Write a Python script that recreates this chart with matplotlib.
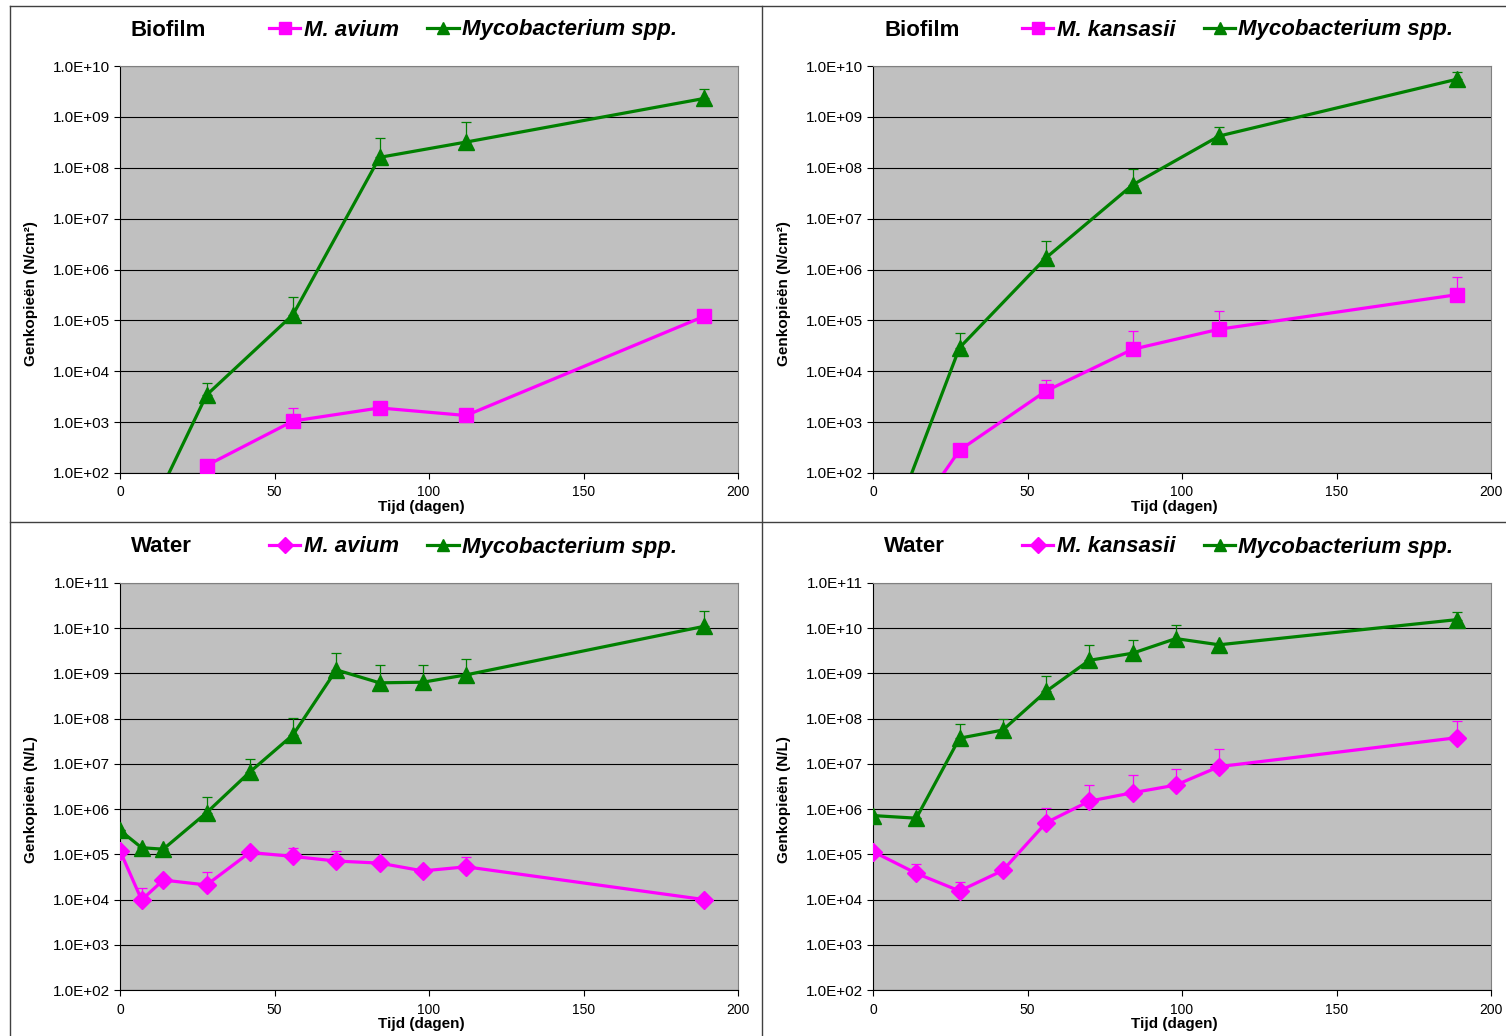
import matplotlib
matplotlib.use("Agg")
import matplotlib.pyplot as plt
from matplotlib.lines import Line2D
from matplotlib.ticker import FixedLocator, FuncFormatter, NullLocator
import numpy as np

plt.rcParams['font.family'] = ['Liberation Sans', 'DejaVu Sans']

MAG = '#FF00FF'
GRN = '#008000'

# ---- Biofilm, M. avium (top left)
bf_av_days = [28, 56, 84, 112, 189]
bf_av = [1.4e2, 1.05e3, 1.9e3, 1.35e3, 1.2e5]
bf_av_top = [1.6e2, 1.9e3, 2.2e3, 1.6e3, 1.4e5]
bf_av_myc_days = [0, 28, 56, 84, 112, 189]
bf_av_myc = [1.0, 3.4e3, 1.3e5, 1.6e8, 3.2e8, 2.3e9]
bf_av_myc_top = [1.0, 5.9e3, 2.9e5, 3.8e8, 7.9e8, 3.6e9]

# ---- Biofilm, M. kansasii (top right)
bf_ka_days = [0, 28, 56, 84, 112, 189]
bf_ka = [1.0, 2.8e2, 4.1e3, 2.7e4, 6.7e4, 3.2e5]
bf_ka_top = [1.0, 3.2e2, 6.8e3, 6.2e4, 1.5e5, 7.1e5]
bf_ka_myc_days = [0, 28, 56, 84, 112, 189]
bf_ka_myc = [1.0, 2.9e4, 1.7e6, 4.6e7, 4.2e8, 5.5e9]
bf_ka_myc_top = [1.0, 5.6e4, 3.6e6, 9.3e7, 6.3e8, 7.6e9]

# ---- Water, M. avium (bottom left)
w_av_days = [0, 7, 14, 28, 42, 56, 70, 84, 98, 112, 189]
w_av = [1.2e5, 9.8e3, 2.7e4, 2.1e4, 1.1e5, 9.0e4, 7.1e4, 6.4e4, 4.3e4, 5.3e4, 1.0e4]
w_av_top = [1.3e5, 1.8e4, 3.0e4, 4.1e4, 1.2e5, 1.4e5, 1.2e5, 7.0e4, 4.6e4, 8.7e4, 1.1e4]
w_av_myc = [3.4e5, 1.4e5, 1.3e5, 8.3e5, 6.6e6, 4.4e7, 1.2e9, 6.2e8, 6.4e8, 9.3e8, 1.1e10]
w_av_myc_top = [3.5e5, 1.45e5, 1.35e5, 1.9e6, 1.3e7, 1.05e8, 2.9e9, 1.55e9, 1.55e9, 2.1e9, 2.4e10]

# ---- Water, M. kansasii (bottom right)
w_ka_days = [0, 14, 28, 42, 56, 70, 84, 98, 112, 189]
w_ka = [1.15e5, 3.8e4, 1.55e4, 4.4e4, 5.0e5, 1.5e6, 2.3e6, 3.4e6, 8.7e6, 3.8e7]
w_ka_top = [1.2e5, 6.0e4, 2.4e4, 4.6e4, 1.07e6, 3.4e6, 5.6e6, 7.9e6, 2.1e7, 8.9e7]
w_ka_myc = [7.2e5, 6.3e5, 3.7e7, 5.6e7, 4.0e8, 1.95e9, 2.8e9, 5.9e9, 4.3e9, 1.55e10]
w_ka_myc_top = [7.4e5, 6.5e5, 7.6e7, 1.0e8, 8.7e8, 4.3e9, 5.5e9, 1.2e10, 4.5e9, 2.3e10]

W, H = 1506, 1036
fig = plt.figure(figsize=(W / 100, H / 100), dpi=100)


def series(ax, x, y, top, color, marker, ms):
    y = np.array(y)
    up = np.array(top) - y
    ax.errorbar(x, y, yerr=[np.zeros_like(up), up], fmt='none', ecolor=color,
                elinewidth=0.9, capsize=3.5, capthick=0.9, zorder=3)
    ln, = ax.plot(x, y, color=color, lw=2.3, marker=marker, ms=ms, mec=color,
                  mfc=color, zorder=4)
    return ln


def panel(px, py, title, species, ylabel, ymax, ylab_y, d1, v1, t1, m1, ms1, d2, v2, t2):
    l, b = px / W, 1 - (py + 407) / H
    ax = fig.add_axes([l, b, 618 / W, 407 / H])
    ax.set_facecolor('#C0C0C0')
    ax.set_yscale('log')
    ax.set_xlim(0, 200)
    ax.set_ylim(1e2, ymax)
    dec = 10.0 ** np.arange(2, int(round(np.log10(ymax))) + 1)
    ax.yaxis.set_major_locator(FixedLocator(dec))
    ax.yaxis.set_minor_locator(NullLocator())
    ax.yaxis.set_major_formatter(FuncFormatter(lambda v, p: f"{v:.1E}"))
    ax.set_xticks([0, 50, 100, 150, 200])
    ax.grid(axis='y', color='black', lw=0.8)
    ax.set_axisbelow(True)
    ax.tick_params(direction='out', length=4, width=0.8, pad=3)
    ax.tick_params(axis='y', labelsize=11, pad=3)
    ax.tick_params(axis='x', labelsize=10, pad=5)
    for s in ['top', 'right']:
        ax.spines[s].set_color('#808080')
    for s in ['left', 'bottom']:
        ax.spines[s].set_color('black')

    h1 = series(ax, d1, v1, t1, MAG, m1, ms1)
    h2 = series(ax, d2, v2, t2, GRN, '^', 11)

    ax.set_xlabel('Tijd (dagen)', fontsize=11, fontweight='bold')
    ax.xaxis.set_label_coords(0.487, -0.066)
    ax.set_ylabel(ylabel, fontsize=11, fontweight='bold')
    ax.yaxis.set_label_coords(-82 / 618, ylab_y)

    ty = 1 - (py - 36) / H
    fig.text((px + 11) / W, ty, title, fontsize=16, fontweight='bold', va='center')
    leg = fig.legend([h1, h2], [species, 'Mycobacterium spp.'], loc='center left',
                     bbox_to_anchor=((px + 138) / W, ty), ncol=2, frameon=False,
                     handlelength=1.4, handletextpad=0.15, columnspacing=1.3,
                     borderpad=0.0, prop=dict(size=16, weight='bold', style='italic'))
    for lh in leg.legend_handles:
        lh.set_markersize(8)
    return ax


panel(120, 66, 'Biofilm', 'M. avium', 'Genkopieën (N/cm²)', 1e10, 0.442,
      bf_av_days, bf_av, bf_av_top, 's', 10.5, bf_av_myc_days, bf_av_myc, bf_av_myc_top)
panel(873, 66, 'Biofilm', 'M. kansasii', 'Genkopieën (N/cm²)', 1e10, 0.442,
      bf_ka_days, bf_ka, bf_ka_top, 's', 10.5, bf_ka_myc_days, bf_ka_myc, bf_ka_myc_top)
panel(120, 583, 'Water', 'M. avium', 'Genkopieën (N/L)', 1e11, 0.467,
      w_av_days, w_av, w_av_top, 'D', 9, w_av_days, w_av_myc, w_av_myc_top)
panel(873, 583, 'Water', 'M. kansasii', 'Genkopieën (N/L)', 1e11, 0.467,
      w_ka_days, w_ka, w_ka_top, 'D', 9, w_ka_days, w_ka_myc, w_ka_myc_top)

# panel borders
bc = '#404040'
fig.add_artist(Line2D([10 / W, 10 / W], [0, 1 - 6 / H], color=bc, lw=1))
fig.add_artist(Line2D([10 / W, 1], [1 - 6 / H, 1 - 6 / H], color=bc, lw=1))
fig.add_artist(Line2D([762 / W, 762 / W], [0, 1 - 6 / H], color=bc, lw=1))
fig.add_artist(Line2D([10 / W, 1], [1 - 522 / H, 1 - 522 / H], color=bc, lw=1))

fig.savefig('out.png', dpi=100, facecolor='white')
